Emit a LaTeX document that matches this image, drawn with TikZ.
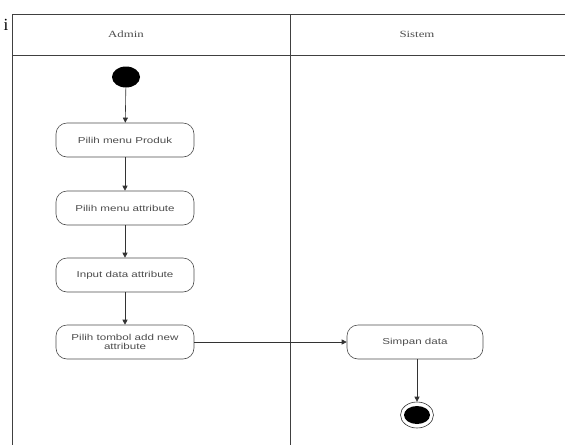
\documentclass[tikz,border=0pt]{standalone}
\usepackage{fontspec}
\setmainfont{Liberation Serif}
\newfontfamily\boxfont[FakeStretch=1.35]{Liberation Sans}
\newfontfamily\headfont[FakeStretch=1.35]{Liberation Serif}
\usetikzlibrary{arrows.meta,shapes.geometric}
\begin{document}
\begin{tikzpicture}[x=1pt,y=-1pt,
  lane/.style={draw=black!75,line width=0.8pt},
  act/.style={draw=black!70,line width=0.6pt,rounded corners=11pt,
    minimum width=138pt,minimum height=34pt,inner sep=1pt,
    font=\boxfont\fontsize{8.6}{9}\selectfont,text=black!70,align=center},
  flow/.style={draw=black!80,line width=0.6pt,-{Triangle[length=5pt,width=5pt]}},
  head/.style={font=\headfont\fontsize{9.5}{10}\selectfont,text=black!70}]
\useasboundingbox (0,0) rectangle (565,445);
% swimlane frame
\draw[lane] (565,14) -- (12,14) -- (12,445);
\draw[lane] (12,55) -- (565,55);
\draw[lane] (290,14) -- (290,445);
\node at (6,25) {\fontsize{17}{17}\selectfont i};
\node[head] (hadmin) at (126,34) {Admin};
\node[head] (hsistem) at (417,34) {Sistem};
% start and end states
\node[ellipse,fill=black,minimum width=28pt,minimum height=21pt,inner sep=0pt] (start) at (126,77) {};
\node[ellipse,draw=black!80,line width=0.6pt,minimum width=33pt,minimum height=26pt,inner sep=0pt] (end) at (417,415) {};
\node[ellipse,fill=black,minimum width=26pt,minimum height=18pt,inner sep=0pt] at (end) {};
% activities
\node[act] (a1) at (125,140) {Pilih menu Produk};
\node[act] (a2) at (125,208) {Pilih menu attribute};
\node[act] (a3) at (125,275) {Input data attribute};
\node[act] (a4) at (125,342) {Pilih tombol add new\\attribute};
\node[act,minimum width=136pt] (a5) at (415,342) {Simpan data};
% transitions
\draw[flow] (start) -- (a1);
\draw[flow] (a1) -- (a2);
\draw[flow] (a2) -- (a3);
\draw[flow] (a3) -- (a4);
\draw[flow] (a4) -- (a5);
\draw[flow] (a5.south -| end) -- (end);
\end{tikzpicture}
\end{document}
